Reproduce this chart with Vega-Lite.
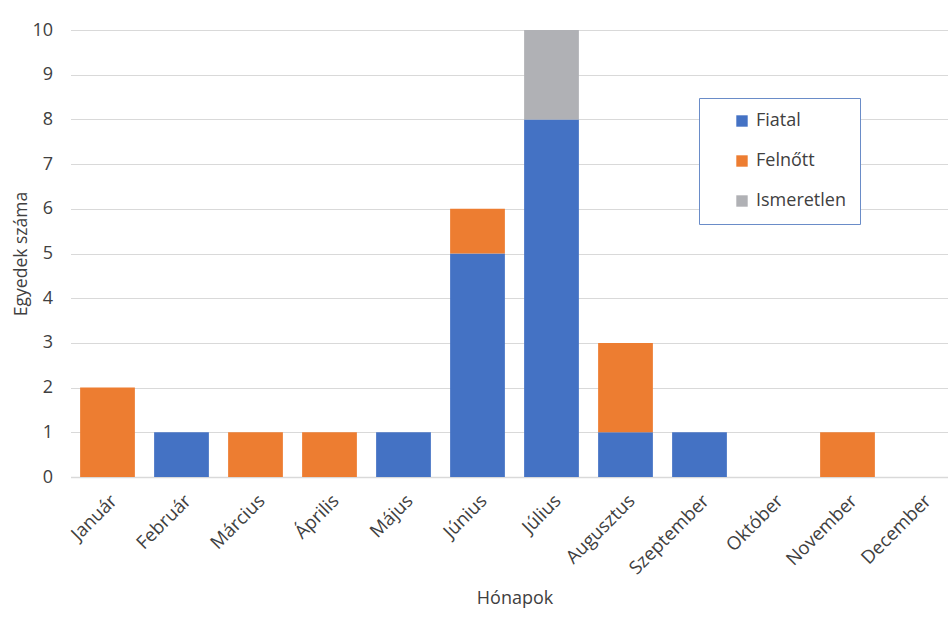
{
  "$schema": "https://vega.github.io/schema/vega-lite/v6.json",
  "width": 888,
  "height": 447,
  "autosize": {"type": "none"},
  "padding": {"left": 70.5, "top": 30, "right": -10.5, "bottom": 148},
  "background": "white",
  "config": {
    "font": "Open Sans",
    "view": {"stroke": null},
    "axis": {"labelColor": "#404040", "titleColor": "#404040", "titleFontWeight": "normal"}
  },
  "data": {
    "values": [
      {"honap": "Január", "csoport": "Felnőtt", "rend": 2, "db": 2},
      {"honap": "Február", "csoport": "Fiatal", "rend": 1, "db": 1},
      {"honap": "Március", "csoport": "Felnőtt", "rend": 2, "db": 1},
      {"honap": "Április", "csoport": "Felnőtt", "rend": 2, "db": 1},
      {"honap": "Május", "csoport": "Fiatal", "rend": 1, "db": 1},
      {"honap": "Június", "csoport": "Fiatal", "rend": 1, "db": 5},
      {"honap": "Június", "csoport": "Felnőtt", "rend": 2, "db": 1},
      {"honap": "Július", "csoport": "Fiatal", "rend": 1, "db": 8},
      {"honap": "Július", "csoport": "Ismeretlen", "rend": 3, "db": 2},
      {"honap": "Augusztus", "csoport": "Fiatal", "rend": 1, "db": 1},
      {"honap": "Augusztus", "csoport": "Felnőtt", "rend": 2, "db": 2},
      {"honap": "Szeptember", "csoport": "Fiatal", "rend": 1, "db": 1},
      {"honap": "November", "csoport": "Felnőtt", "rend": 2, "db": 1}
    ]
  },
  "mark": {"type": "bar"},
  "encoding": {
    "x": {
      "field": "honap",
      "type": "nominal",
      "scale": {
        "domain": ["Január", "Február", "Március", "Április", "Május", "Június", "Július", "Augusztus", "Szeptember", "Október", "November", "December"],
        "paddingInner": 0.26,
        "paddingOuter": 0.13
      },
      "axis": {
        "title": "Hónapok",
        "titleFontSize": 18,
        "titlePadding": 12,
        "labelAngle": -45,
        "labelAlign": "right",
        "labelBaseline": "top",
        "labelFontSize": 18.5,
        "labelPadding": 14,
        "ticks": false,
        "domainColor": "#d9d9d9",
        "domainWidth": 1.5
      }
    },
    "y": {
      "field": "db",
      "type": "quantitative",
      "stack": "zero",
      "scale": {"domain": [0, 10]},
      "axis": {
        "title": "Egyedek száma",
        "titleFontSize": 17.5,
        "titlePadding": 1,
        "tickCount": 10,
        "labelFontSize": 18,
        "labelPadding": 18,
        "ticks": false,
        "domain": false,
        "gridColor": "#d9d9d9",
        "gridWidth": 1
      }
    },
    "color": {
      "field": "csoport",
      "type": "nominal",
      "scale": {
        "domain": ["Fiatal", "Felnőtt", "Ismeretlen"],
        "range": ["#4472C4", "#ED7D31", "#B0B1B5"]
      },
      "legend": {
        "title": null,
        "orient": "none",
        "legendX": 628.5,
        "legendY": 68,
        "fillColor": "white",
        "strokeColor": "#6a8cc8",
        "padding": 14,
        "labelFontSize": 18,
        "labelColor": "#404040",
        "labelExpr": "datum.label + '\u00a0\u00a0\u00a0\u00a0'",
        "symbolType": "square",
        "symbolSize": 130,
        "symbolStrokeWidth": 0,
        "symbolOffset": 20,
        "labelOffset": 5,
        "rowPadding": 22,
        "labelLimit": 200
      }
    },
    "order": {"field": "rend", "type": "quantitative"}
  }
}
